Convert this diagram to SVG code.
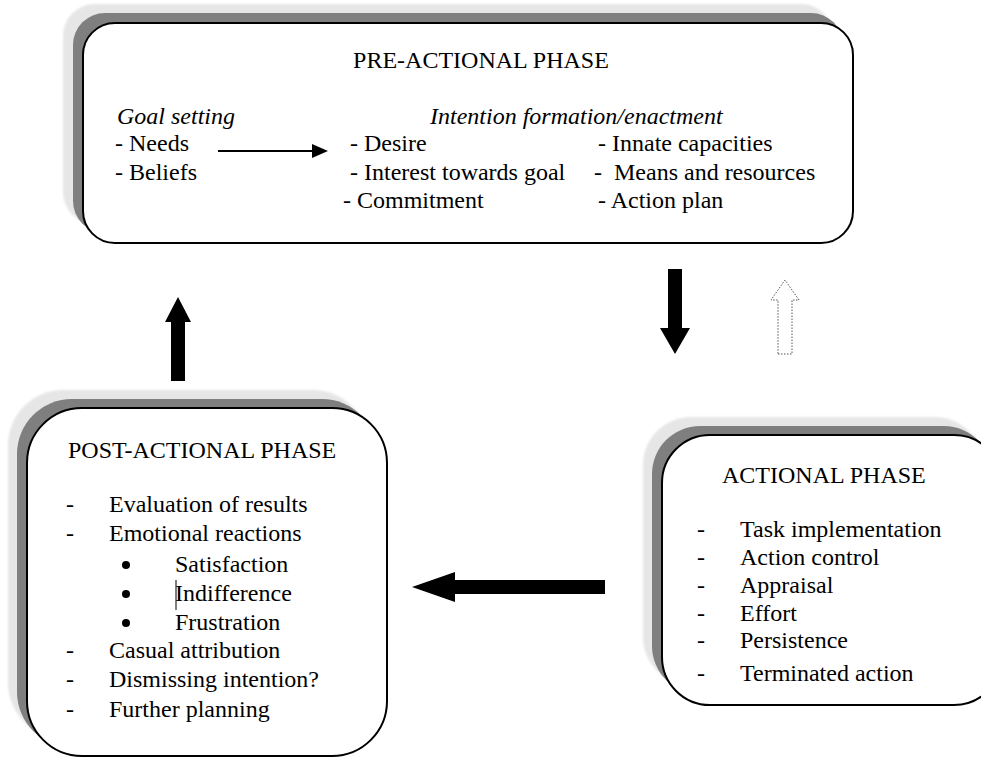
<svg xmlns="http://www.w3.org/2000/svg" width="981" height="760" viewBox="0 0 981 760">
<style>
  text { font-family: "Liberation Serif", "DejaVu Serif", serif; font-size: 24px; fill: #000; }
  .it { font-style: italic; }
  .box { fill: #fff; stroke: #000; stroke-width: 2; }
  .sh1 { fill: #e6e6e6; }
  .sh2 { fill: #7f7f7f; }
  .blk { fill: #000; stroke: none; }
</style>
<defs>
  <filter id="soft" x="-5%" y="-5%" width="110%" height="110%">
    <feGaussianBlur stdDeviation="1.2"/>
  </filter>
</defs>
<rect width="981" height="760" fill="#fff"/>

<g id="pre-actional">
  <rect class="sh1" x="63" y="4" width="770" height="220" rx="32" filter="url(#soft)"/>
  <rect class="sh2" x="73" y="13" width="770" height="220" rx="32"/>
  <rect class="box" x="83" y="23" width="770" height="220" rx="32"/>
  <text x="481" y="68" text-anchor="middle">PRE-ACTIONAL PHASE</text>
  <text class="it" x="117" y="124">Goal setting</text>
  <text x="115" y="151">- Needs</text>
  <text x="115" y="180">- Beliefs</text>
  <line x1="218" y1="151" x2="314" y2="151" stroke="#000" stroke-width="2"/>
  <polygon class="blk" points="312,144 328,151 312,158"/>
  <text class="it" x="430" y="124">Intention formation/enactment</text>
  <text x="350" y="151">- Desire</text>
  <text x="350" y="180">- Interest towards goal</text>
  <text x="343" y="208">- Commitment</text>
  <text x="598" y="151">- Innate capacities</text>
  <text x="594" y="180" xml:space="preserve">-  Means and resources</text>
  <text x="598" y="208">- Action plan</text>
</g>

<g id="post-actional">
  <rect class="sh1" x="8" y="390" width="360" height="348" rx="55" filter="url(#soft)"/>
  <rect class="sh2" x="17" y="399" width="360" height="348" rx="55"/>
  <rect class="box" x="27" y="408" width="360" height="348" rx="55"/>
  <text x="68" y="458">POST-ACTIONAL PHASE</text>
  <text x="66" y="512">-</text><text x="109" y="512">Evaluation of results</text>
  <text x="66" y="541">-</text><text x="109" y="541">Emotional reactions</text>
  <circle class="blk" cx="126" cy="565" r="4"/><text x="175" y="572">Satisfaction</text>
  <circle class="blk" cx="126" cy="594" r="4"/><text x="175" y="601">Indifference</text>
  <line x1="176" y1="580" x2="176" y2="610" stroke="#000" stroke-width="1"/>
  <circle class="blk" cx="126" cy="623" r="4"/><text x="175" y="630">Frustration</text>
  <text x="66" y="658">-</text><text x="109" y="658">Casual attribution</text>
  <text x="66" y="687">-</text><text x="109" y="687">Dismissing intention?</text>
  <text x="66" y="717">-</text><text x="109" y="717">Further planning</text>
</g>

<g id="actional">
  <rect class="sh1" x="643" y="417" width="340" height="268" rx="48" filter="url(#soft)"/>
  <rect class="sh2" x="652" y="426" width="340" height="268" rx="48"/>
  <rect class="box" x="662" y="435" width="340" height="270" rx="48"/>
  <text x="722" y="483">ACTIONAL PHASE</text>
  <text x="697" y="537">-</text><text x="740" y="537">Task implementation</text>
  <text x="697" y="565">-</text><text x="740" y="565">Action control</text>
  <text x="697" y="593">-</text><text x="740" y="593">Appraisal</text>
  <text x="697" y="621">-</text><text x="740" y="621">Effort</text>
  <text x="697" y="648">-</text><text x="740" y="648">Persistence</text>
  <text x="697" y="681">-</text><text x="740" y="681">Terminated action</text>
</g>

<g id="connectors">
  <polygon class="blk" points="171,381 185,381 185,322 191,322 178,297 165,322 171,322"/>
  <polygon class="blk" points="668,269 682,269 682,328 690,328 675,354 660,328 668,328"/>
  <polygon points="778,354 792,354 792,300 799,300 785,280 771,300 778,300" fill="#fff" stroke="#555" stroke-width="1" stroke-dasharray="1.5,1.5"/>
  <polygon class="blk" points="605,580 605,594 455,594 455,602 412,587 455,572 455,580"/>
</g>
</svg>
